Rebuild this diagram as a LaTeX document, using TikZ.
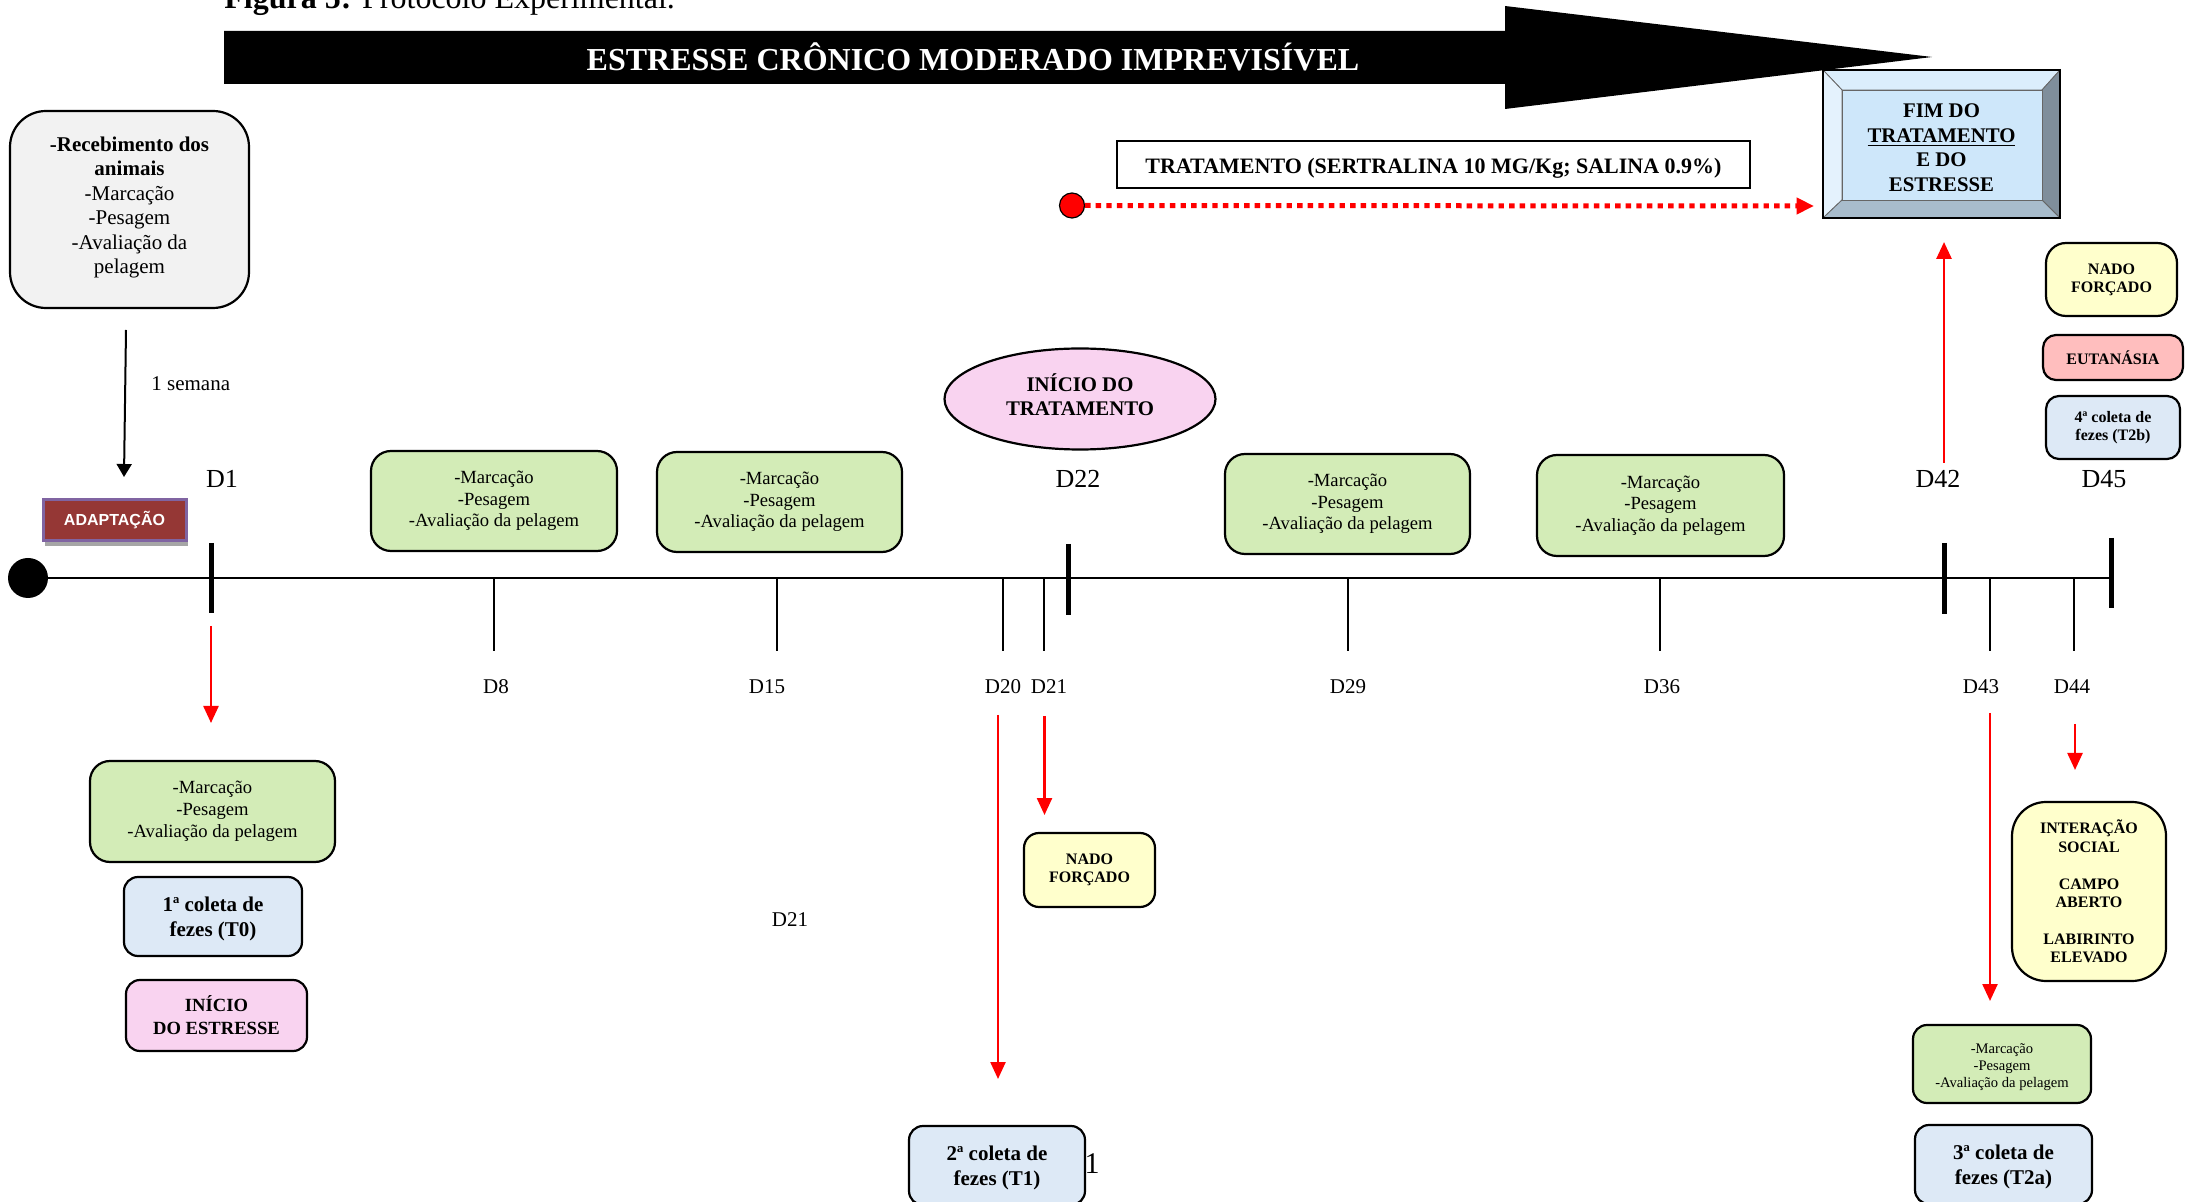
\documentclass[tikz,border=0pt]{standalone}
\usepackage{fontspec}
\setmainfont{Liberation Serif}
\newfontfamily\arialf{Liberation Sans}
\usetikzlibrary{arrows.meta,shapes.geometric,shadows}
\definecolor{gfill}{RGB}{211,236,183}
\definecolor{bfill}{RGB}{221,233,246}
\definecolor{pfill}{RGB}{249,211,240}
\definecolor{yfill}{RGB}{255,255,204}
\definecolor{efill}{RGB}{255,190,190}
\definecolor{grayfill}{RGB}{242,242,242}
\definecolor{adapt}{RGB}{149,55,53}
\definecolor{adaptb}{RGB}{128,100,162}
\definecolor{bevtop}{RGB}{219,238,252}
\definecolor{bevleft}{RGB}{228,242,253}
\definecolor{bevright}{RGB}{127,142,155}
\definecolor{bevbot}{RGB}{168,188,204}
\definecolor{bevin}{RGB}{206,231,250}
\begin{document}
\begin{tikzpicture}[x=0.5pt,y=-0.5pt,
  sz/.style 2 args={minimum width=#1*0.5pt, minimum height=#2*0.5pt},
  bx/.style={draw=black, line width=1.1pt, inner sep=0pt, align=center},
  greenbox/.style={bx, fill=gfill, rounded corners=10pt, font=\fontsize{9.3}{10.8}\selectfont},
  smallgreen/.style={bx, fill=gfill, rounded corners=7pt, font=\fontsize{7.3}{8.5}\selectfont},
  bluebox/.style={bx, fill=bfill, rounded corners=7pt, font=\bfseries\fontsize{10.5}{12.5}\selectfont},
  smallblue/.style={bx, fill=bfill, rounded corners=6.5pt, font=\bfseries\fontsize{8}{9}\selectfont},
  yellowbox/.style={bx, fill=yfill, rounded corners=8pt, font=\bfseries\fontsize{8}{9}\selectfont},
  daylbl/.style={font=\fontsize{10.5}{12}\selectfont, inner sep=0pt},
  biglbl/.style={font=\fontsize{13}{15}\selectfont, inner sep=0pt},
  bigtick/.style={line width=2.5pt},
  thintick/.style={line width=0.8pt},
  redarr/.style={draw=red, line width=1.2pt, -{Triangle[length=8.5pt,width=7.5pt]}},
]
\useasboundingbox (0,0) rectangle (2195,1202);
\clip (0,0) rectangle (2195,1202);
\fill[white] (0,0) rectangle (2195,1202);

% title
\node[anchor=base west, inner sep=0pt, font=\fontsize{16}{19}\selectfont] (title) at (224,9) {\textbf{Figura 5:} Protocolo Experimental.};

% big black arrow
\fill[black] (224,31) -- (1505,31) -- (1505,6) -- (1932,57) -- (1505,109) -- (1505,84) -- (224,84) -- cycle;
\node[text=white, font=\bfseries\fontsize{16}{19}\selectfont, inner sep=0pt] (cmi) at (973,57) {ESTRESSE CRÔNICO MODERADO IMPREVISÍVEL};

% FIM box bevel
\filldraw[fill=bevtop, draw=black!60, line width=0.4pt] (1823,70) -- (2060,70) -- (2042,90) -- (1842,90) -- cycle;
\filldraw[fill=bevleft, draw=black!60, line width=0.4pt] (1823,70) -- (1842,90) -- (1842,200) -- (1823,218) -- cycle;
\filldraw[fill=bevright, draw=black!60, line width=0.4pt] (2060,70) -- (2060,218) -- (2042,200) -- (2042,90) -- cycle;
\filldraw[fill=bevbot, draw=black!60, line width=0.4pt] (1823,218) -- (2060,218) -- (2042,200) -- (1842,200) -- cycle;
\filldraw[fill=bevin, draw=black!60, line width=0.4pt] (1842,90) rectangle (2042,200);
\node[draw=black, line width=1.1pt, sz={237}{148}, inner sep=0pt, align=center, font=\bfseries\fontsize{10.4}{12.25}\selectfont] (fim) at (1941.5,144) {\rule{0pt}{10.4pt}FIM DO\\\underline{TRATAMENTO}\\E DO\\ESTRESSE};

% treatment
\node[draw=black, line width=1.2pt, sz={633}{47}, inner sep=0pt, text height=9.5pt, text depth=0pt, font=\bfseries\fontsize{11}{13}\selectfont] (trat) at (1433.5,164.5) {TRATAMENTO (SERTRALINA 10 MG/Kg; SALINA 0.9\%)};
\node[circle, fill=red, draw=black, line width=0.6pt, minimum size=12.5pt, inner sep=0pt] (rc) at (1072,205.5) {};
\coordinate (dotend) at (1814,206);
\draw[red, line width=2.5pt, dash pattern=on 2.7pt off 2.6pt, -{Triangle[length=8.75pt,width=8pt]}] (rc.east) -- (dotend);

% reception
\node[bx, fill=grayfill, rounded corners=18pt, sz={239}{197}, font=\fontsize{10.5}{12.25}\selectfont] (rec) at (129.5,209.5) {\textbf{-Recebimento dos}\\\textbf{animais}\\-Marcação\\-Pesagem\\-Avaliação da\\pelagem\rule[-4.3pt]{0pt}{0pt}};
\coordinate (a1s) at (126,330);
\coordinate (a1e) at (124,477);
\draw[line width=1pt, -{Triangle[length=6.5pt,width=7.5pt]}] (a1s) -- (a1e);
\node[anchor=west, daylbl] (sem) at (151,384) {1 semana};

\node[fill=adapt, draw=adaptb, line width=1.5pt, sz={143}{41}, inner sep=0pt, text=white, font=\arialf\bfseries\fontsize{8}{9.6}\selectfont, drop shadow={shadow xshift=1pt, shadow yshift=-2.5pt, fill=black!35, opacity=1}] (adapt) at (114.5,520.5) {ADAPTAÇÃO};

% timeline
\node[circle, fill=black, minimum size=20pt, inner sep=0pt] (start) at (28,578) {};
\coordinate (tend) at (2111,578);
\draw[line width=1.3pt] (start) -- (tend);
\foreach \x/\a/\b in {211.6/543/613, 1068.75/544/615, 1944/543/614, 2111/538/608}
  \draw[bigtick] (\x,\a) -- (\x,\b);
\foreach \x in {494,777,1002.7,1044,1348,1660,1990,2074}
  \draw[thintick] (\x,579) -- (\x,651);

\node[biglbl] (lD1) at (222,479) {D1};
\node[biglbl] (lD22) at (1078,479) {D22};
\node[biglbl] (lD42) at (1938,479) {D42};
\node[biglbl] (lD45) at (2104,479) {D45};

\node[daylbl] (lD8) at (496,687) {D8};
\node[daylbl] (lD15) at (767,687) {D15};
\node[daylbl] (lD20) at (1003,687) {D20};
\node[daylbl] (lD21) at (1049,687) {D21};
\node[daylbl] (lD29) at (1348,687) {D29};
\node[daylbl] (lD36) at (1662,687) {D36};
\node[daylbl] (lD43) at (1981,687) {D43};
\node[daylbl] (lD44) at (2072,687) {D44};
\node[daylbl] (stray) at (790,920) {D21};
\node[font=\fontsize{15}{17}\selectfont, inner sep=0pt] (one) at (1092,1164) {1};

% green boxes
\node[greenbox, sz={246}{100}] (gA) at (494,501) {-Marcação\\-Pesagem\\-Avaliação da pelagem};
\node[greenbox, sz={245}{100}] (gB) at (779.5,502) {-Marcação\\-Pesagem\\-Avaliação da pelagem};
\node[greenbox, sz={245}{100}] (gC) at (1347.5,504) {-Marcação\\-Pesagem\\-Avaliação da pelagem};
\node[greenbox, sz={247}{101}] (gD) at (1660.5,505.5) {-Marcação\\-Pesagem\\-Avaliação da pelagem};
\node[greenbox, sz={245}{101}, font=\fontsize{9.3}{11}\selectfont] (gE) at (212.5,811.5) {-Marcação\\-Pesagem\\-Avaliação da pelagem};
\node[smallgreen, sz={178}{78}] (gF) at (2002,1064) {\rule{0pt}{7.8pt}-Marcação\\-Pesagem\\-Avaliação da pelagem};

% ellipse
\node[ellipse, draw=black, line width=1.1pt, fill=pfill, sz={271}{101}, inner sep=0pt, align=center, font=\bfseries\fontsize{10.4}{12}\selectfont] (itrat) at (1080,399) {INÍCIO DO\\TRATAMENTO\rule[-4pt]{0pt}{0pt}};

% lower-left boxes
\node[bluebox, sz={178}{79}] (c1) at (213,916.5) {\rule{0pt}{9.8pt}1ª coleta de\\fezes (T0)};
\node[bx, fill=pfill, rounded corners=7pt, sz={181}{71}, font=\bfseries\fontsize{9.3}{11.5}\selectfont] (iest) at (216.5,1015.5) {INÍCIO\\DO ESTRESSE};

% middle
\node[yellowbox, rounded corners=7.5pt, sz={131}{74}] (nado1) at (1089.5,870) {NADO\\FORÇADO};
\node[bluebox, sz={176}{79}] (c2) at (997,1165.5) {\rule{0pt}{9.8pt}2ª coleta de\\fezes (T1)};

% right
\node[yellowbox, rounded corners=10pt, sz={131}{73}] (nado2) at (2111.5,279.5) {NADO\\FORÇADO};
\node[bx, fill=efill, rounded corners=6.5pt, sz={140}{45}, font=\bfseries\fontsize{8}{9}\selectfont] (euta) at (2113,357.5) {EUTANÁSIA};
\node[smallblue, sz={134}{63}] (c4) at (2113,427.5) {4ª coleta de\\fezes (T2b)};
\node[yellowbox, rounded corners=17pt, sz={154}{179}, font=\bfseries\fontsize{8}{9.2}\selectfont] (inter) at (2089,891.5) {INTERAÇÃO\\SOCIAL\\[9.2pt]CAMPO\\ABERTO\\[9.2pt]LABIRINTO\\ELEVADO};
\node[bluebox, sz={177}{79}] (c3) at (2003.5,1164.5) {\rule{0pt}{9.8pt}3ª coleta de\\fezes (T2a)};

% red arrows
\coordinate (r1s) at (211,626);   \coordinate (r1e) at (211,723);
\coordinate (r20s) at (998,715);  \coordinate (r20e) at (998,1079);
\coordinate (r21s) at (1044.5,716); \coordinate (r21e) at (1044.5,815);
\coordinate (r43s) at (1990,713); \coordinate (r43e) at (1990,1001);
\coordinate (r44s) at (2075,724); \coordinate (r44e) at (2075,770);
\coordinate (r42s) at (1944,463); \coordinate (r42e) at (1944,242);
\draw[redarr] (r1s) -- (r1e);
\draw[redarr] (r20s) -- (r20e);
\draw[redarr] (r21s) -- (r21e);
\draw[redarr] (r43s) -- (r43e);
\draw[redarr] (r44s) -- (r44e);
\draw[redarr, line width=1.4pt] (r42s) -- (r42e);
\end{tikzpicture}
\end{document}
